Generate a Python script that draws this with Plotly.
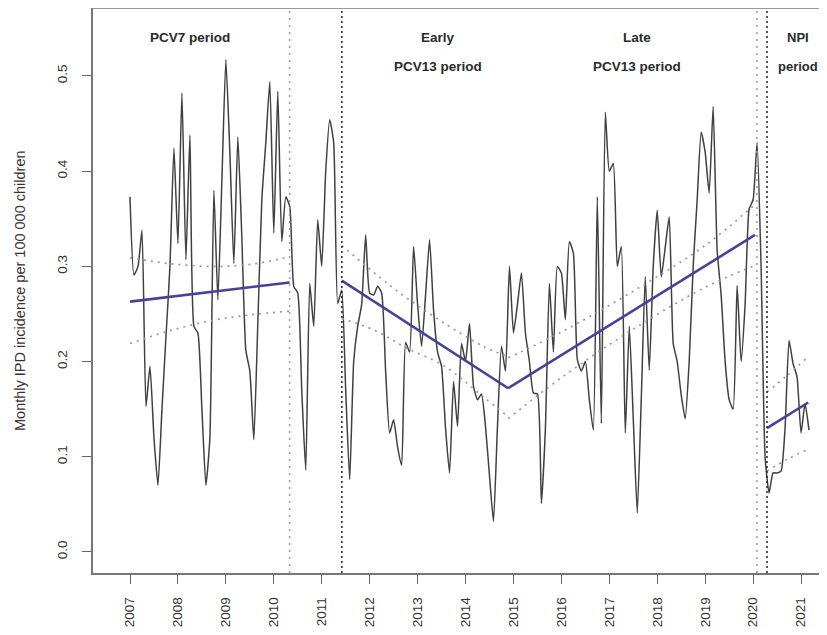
import plotly.graph_objects as go

# mesacna incidencia IPD, jan 2007 - mar 2021
incidence = [
    # 2007
    0.373, 0.291, 0.300, 0.338, 0.153, 0.195, 0.120, 0.070, 0.150, 0.226, 0.300, 0.424,
    # 2008
    0.324, 0.482, 0.307, 0.438, 0.237, 0.230, 0.150, 0.070, 0.120, 0.380, 0.265, 0.390,
    # 2009
    0.517, 0.420, 0.303, 0.436, 0.330, 0.212, 0.190, 0.118, 0.240, 0.370, 0.430, 0.494,
    # 2010
    0.335, 0.484, 0.326, 0.373, 0.363, 0.279, 0.272, 0.170, 0.086, 0.282, 0.237, 0.349,
    # 2011
    0.300, 0.400, 0.454, 0.430, 0.261, 0.275, 0.170, 0.076, 0.200, 0.237, 0.260, 0.333,
    # 2012
    0.272, 0.270, 0.279, 0.272, 0.190, 0.125, 0.139, 0.110, 0.091, 0.220, 0.210, 0.321,
    # 2013
    0.260, 0.216, 0.270, 0.328, 0.254, 0.210, 0.195, 0.130, 0.083, 0.179, 0.132, 0.219,
    # 2014
    0.200, 0.240, 0.174, 0.160, 0.166, 0.132, 0.080, 0.032, 0.132, 0.216, 0.190, 0.300,
    # 2015
    0.230, 0.260, 0.293, 0.230, 0.200, 0.167, 0.166, 0.051, 0.130, 0.282, 0.210, 0.300,
    # 2016
    0.293, 0.244, 0.326, 0.314, 0.202, 0.190, 0.200, 0.160, 0.128, 0.373, 0.135, 0.462,
    # 2017
    0.400, 0.408, 0.300, 0.321, 0.125, 0.237, 0.140, 0.041, 0.160, 0.289, 0.191, 0.300,
    # 2018
    0.359, 0.289, 0.320, 0.352, 0.219, 0.200, 0.165, 0.140, 0.200, 0.300, 0.370, 0.441,
    # 2019
    0.420, 0.377, 0.468, 0.317, 0.270, 0.200, 0.160, 0.150, 0.280, 0.200, 0.260, 0.360,
    # 2020
    0.370, 0.430, 0.300, 0.100, 0.062, 0.083, 0.083, 0.085, 0.130, 0.222, 0.198, 0.184,
    # 2021
    0.125, 0.156, 0.128,
]
start_year = 2007

# segmentova regresia: (od, do), (hodnota od, hodnota do)
trend_x = [(2007.0, 2010.33), (2011.42, 2014.89), (2014.89, 2020.04), (2020.29, 2021.15)]
trend_y = [(0.263, 0.283), (0.285, 0.172), (0.172, 0.333), (0.130, 0.157)]

# intervaly spolahlivosti (bodkovane)
ci_x = [
    [2007.0, 2007.8, 2008.7, 2009.5, 2010.33],
    [2011.42, 2012.1, 2012.74, 2013.57, 2014.37, 2014.89],
    [2014.89, 2016.0, 2017.5, 2019.0, 2020.04],
    [2020.29, 2020.7, 2021.15],
]
ci_upper = [
    [0.309, 0.303, 0.300, 0.302, 0.310],
    [0.322, 0.293, 0.268, 0.240, 0.216, 0.205],
    [0.204, 0.231, 0.274, 0.322, 0.365],
    [0.168, 0.185, 0.205],
]
ci_lower = [
    [0.219, 0.232, 0.243, 0.249, 0.253],
    [0.245, 0.233, 0.215, 0.195, 0.163, 0.142],
    [0.140, 0.183, 0.234, 0.278, 0.301],
    [0.085, 0.097, 0.108],
]

# hranice obdobi
breaks = [2010.33, 2011.42, 2020.08, 2020.29]
break_colors = ['#9a9a9a', '#222222', '#9a9a9a', '#222222']
break_dash = ['2px,5px', '2px,3px', '2px,5px', '2px,3px']

# popisy obdobi
period_x = [2008.25, 2013.43, 2013.43, 2017.58, 2017.58, 2020.93, 2020.93]
period_y = [0.540, 0.540, 0.510, 0.540, 0.510, 0.540, 0.510]
period_txt = ['PCV7 period', 'Early', 'PCV13 period', 'Late', 'PCV13 period', 'NPI', 'period']

years = list(range(2007, 2022))

months = [start_year + i / 12 for i in range(len(incidence))]

fig = go.Figure()
fig.add_trace(go.Scatter(x=months, y=incidence, mode='lines',
                         line=dict(color='#404040', width=1.5, shape='spline', smoothing=0.5)))

for xs, lo, hi in zip(ci_x, ci_lower, ci_upper):
    for ys in (lo, hi):
        fig.add_trace(go.Scatter(x=xs, y=ys, mode='lines',
                                 line=dict(color='#999999', width=1.7, dash='2px,5px', shape='spline')))

for (x0, x1), (y0, y1) in zip(trend_x, trend_y):
    fig.add_trace(go.Scatter(x=[x0, x1], y=[y0, y1], mode='lines',
                             line=dict(color='#43439a', width=2.6)))

for b, c, d in zip(breaks, break_colors, break_dash):
    fig.add_shape(type='line', xref='x', yref='paper', x0=b, x1=b, y0=0, y1=1,
                  line=dict(color=c, width=1.5, dash=d))

# horna cast ramceka
fig.add_shape(type='line', xref='paper', yref='paper', x0=0, x1=1, y0=1, y1=1,
              line=dict(color='#777777', width=1.5))

for x, y, t in zip(period_x, period_y, period_txt):
    fig.add_annotation(x=x, y=y, text='<b>' + t + '</b>', showarrow=False,
                       font=dict(size=13.5 if x < 2020 else 13, color='#2a2a2a'))

fig.add_annotation(xref='paper', yref='paper', x=-0.1006, y=0.5009, textangle=-90,
                   xanchor='center', yanchor='middle',
                   text='Monthly IPD incidence per 100 000 children', showarrow=False,
                   font=dict(size=14.5, color='#333333'))

axis_style = dict(showgrid=False, zeroline=False, showline=True, linecolor='#777777', linewidth=1.5,
                  ticks='outside', ticklen=9, tickcolor='#666666', tickwidth=1,
                  tickfont=dict(size=13.5, color='#333333'), tickangle=-90)

# stranka ma 8px okraj, figura musi zmestit do okna
fig.update_layout(
    width=811, height=619,
    margin=dict(l=85, r=0, t=0, b=54, autoexpand=False),
    plot_bgcolor='white', paper_bgcolor='white',
    showlegend=False,
    font=dict(family='Liberation Sans, Arial, sans-serif'),
    xaxis=dict(range=[2006.228, 2021.375], tickmode='array', tickvals=years,
               ticktext=[str(y) for y in years], ticklabelstandoff=8, **axis_style),
    yaxis=dict(range=[-0.0221, 0.5714], tickmode='array', tickvals=[0, 0.1, 0.2, 0.3, 0.4, 0.5],
               ticktext=['0.0', '0.1', '0.2', '0.3', '0.4', '0.5'], ticklabelstandoff=10, **axis_style),
)

fig.write_html("out.html")
